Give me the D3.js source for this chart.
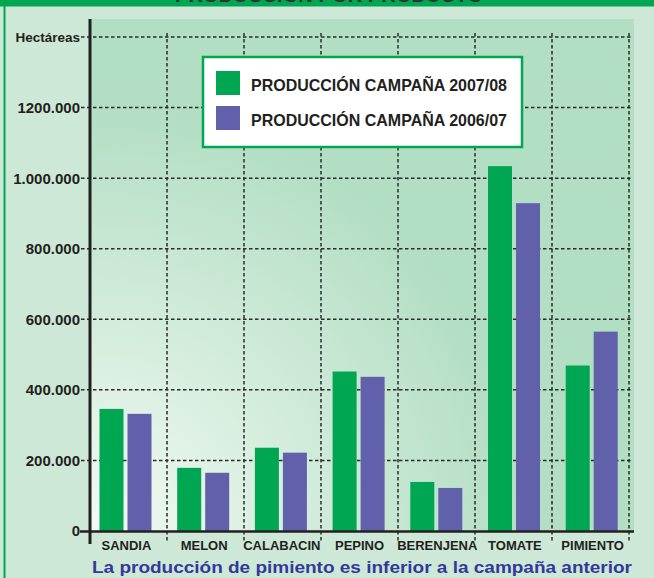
<!DOCTYPE html>
<html>
<head>
<meta charset="utf-8">
<script src="https://cdn.jsdelivr.net/npm/d3@7"></script>
<style>
  body { margin: 0; background: #cde8d6; }
  svg { display: block; font-family: "Liberation Sans", Arial, sans-serif; }
</style>
</head>
<body>
<svg width="654" height="578"></svg>
<script>
const categories = ['SANDIA', 'MELON', 'CALABACIN', 'PEPINO', 'BERENJENA', 'TOMATE', 'PIMIENTO'];
const series = ['PRODUCCIÓN CAMPAÑA 2007/08', 'PRODUCCIÓN CAMPAÑA 2006/07'];
const values0708 = [346000, 179000, 236000, 452000, 139000, 1034000, 469000];
const values0607 = [332000, 165000, 222000, 437000, 122000, 929000, 565000];
const yTicks = [0, 200000, 400000, 600000, 800000, 1000000, 1200000, 1400000];
const yTickLabels = ['0', '200.000', '400.000', '600.000', '800.000', '1.000.000', '1200.000', 'Hectáreas'];
const colors = ['#00a651', '#6161ab'];

const svg = d3.select('svg');
const plotL = 90, plotR = 629, plotT = 37, plotB = 531;

// grid bands and (slightly offset) bar bands
const x = d3.scaleBand().domain(categories).range([plotL, plotR]);
const xb = d3.scaleBand().domain(categories).range([86.6, 630.5]);
const xs = d3.scaleBand().domain(series).range([12.9, 64.9]).paddingInner(1 / 7);
const y = d3.scaleLinear().domain([0, 1400000]).range([plotB, plotT]);

// background
svg.append('rect').attr('width', 654).attr('height', 578).attr('fill', '#cde8d6');
const defs = svg.append('defs');
const grad = defs.append('radialGradient').attr('id', 'bg')
  .attr('gradientUnits', 'userSpaceOnUse')
  .attr('cx', 95).attr('cy', 531).attr('r', 430);
grad.append('stop').attr('offset', '0%').attr('stop-color', '#f3faf4');
grad.append('stop').attr('offset', '100%').attr('stop-color', '#b2dec3');
svg.append('rect').attr('x', plotL).attr('y', 19).attr('width', 634 - plotL).attr('height', plotB - 19)
  .attr('fill', 'url(#bg)');

// frame + clipped title
svg.append('rect').attr('x', 0).attr('y', 0).attr('width', 654).attr('height', 6.5).attr('fill', '#00a651');
svg.append('rect').attr('x', 3.5).attr('y', 0).attr('width', 2).attr('height', 578).attr('fill', '#00a651');
svg.append('text').attr('x', 329).attr('y', 2).attr('text-anchor', 'middle')
  .attr('font-size', 20).attr('font-weight', 'bold').attr('fill', '#333')
  .attr('textLength', 308).attr('lengthAdjust', 'spacingAndGlyphs')
  .text('PRODUCCIÓN POR PRODUCTO');

// horizontal grid
const grid = svg.append('g');
grid.selectAll('line.h').data(yTicks.slice(1)).enter().append('line')
  .attr('x1', 81).attr('x2', plotR + 2)
  .attr('y1', d => y(d)).attr('y2', d => y(d))
  .attr('stroke', '#2b2b2b').attr('stroke-width', 1.5).attr('stroke-dasharray', '3.5,2.5');
// vertical grid
grid.selectAll('line.v').data(categories.slice(1).concat(['end'])).enter().append('line')
  .attr('x1', d => d === 'end' ? plotR : x(d)).attr('x2', d => d === 'end' ? plotR : x(d))
  .attr('y1', plotT - 4).attr('y2', plotB + 11)
  .attr('stroke', '#2b2b2b').attr('stroke-width', 1.5).attr('stroke-dasharray', '3.5,2.5');

// bars
const groups = svg.append('g').selectAll('g').data(categories).enter().append('g')
  .attr('transform', d => `translate(${xb(d)},0)`);
groups.selectAll('rect').data((d, i) => [values0708[i], values0607[i]]).enter().append('rect')
  .attr('x', (d, j) => xs(series[j]))
  .attr('width', xs.bandwidth())
  .attr('y', d => y(d))
  .attr('height', d => plotB - y(d))
  .attr('fill', (d, j) => colors[j]);

// axes
svg.append('line').attr('x1', 80).attr('x2', 634).attr('y1', plotB + 0.5).attr('y2', plotB + 0.5)
  .attr('stroke', '#231f20').attr('stroke-width', 2.5);
svg.append('line').attr('x1', plotL).attr('x2', plotL).attr('y1', 19).attr('y2', 544)
  .attr('stroke', '#231f20').attr('stroke-width', 3);

// y labels
svg.append('g').selectAll('text').data(yTicks).enter().append('text')
  .attr('x', 80).attr('y', d => y(d)).attr('dy', '0.36em')
  .attr('text-anchor', 'end').attr('font-weight', 'bold')
  .attr('font-size', (d, i) => i === yTicks.length - 1 ? 13.5 : 15)
  .attr('fill', '#231f20')
  .text((d, i) => yTickLabels[i]);

// x labels
svg.append('g').selectAll('text').data(categories).enter().append('text')
  .attr('x', d => xb(d) + xb.bandwidth() / 2 + 1).attr('y', 550)
  .attr('text-anchor', 'middle').attr('font-weight', 'bold').attr('font-size', 13)
  .attr('fill', '#231f20')
  .text(d => d);

// legend
const lg = svg.append('g');
lg.append('rect').attr('x', 203).attr('y', 57).attr('width', 319).attr('height', 90)
  .attr('fill', '#fff').attr('stroke', '#00a651').attr('stroke-width', 2.5);
series.forEach((s, i) => {
  lg.append('rect').attr('x', 216).attr('y', 71 + i * 35).attr('width', 24).attr('height', 24).attr('fill', colors[i]);
  lg.append('text').attr('x', 251).attr('y', 91 + i * 35)
    .attr('font-size', 16.5).attr('font-weight', 'bold').attr('fill', '#231f20')
    .attr('textLength', 256).attr('lengthAdjust', 'spacingAndGlyphs')
    .text(s);
});

// footer
svg.append('text').attr('x', 92).attr('y', 573)
  .attr('font-size', 16).attr('font-weight', 'bold').attr('fill', '#34389a')
  .attr('textLength', 540).attr('lengthAdjust', 'spacingAndGlyphs')
  .text('La producción de pimiento es inferior a la campaña anterior');
</script>
</body>
</html>
